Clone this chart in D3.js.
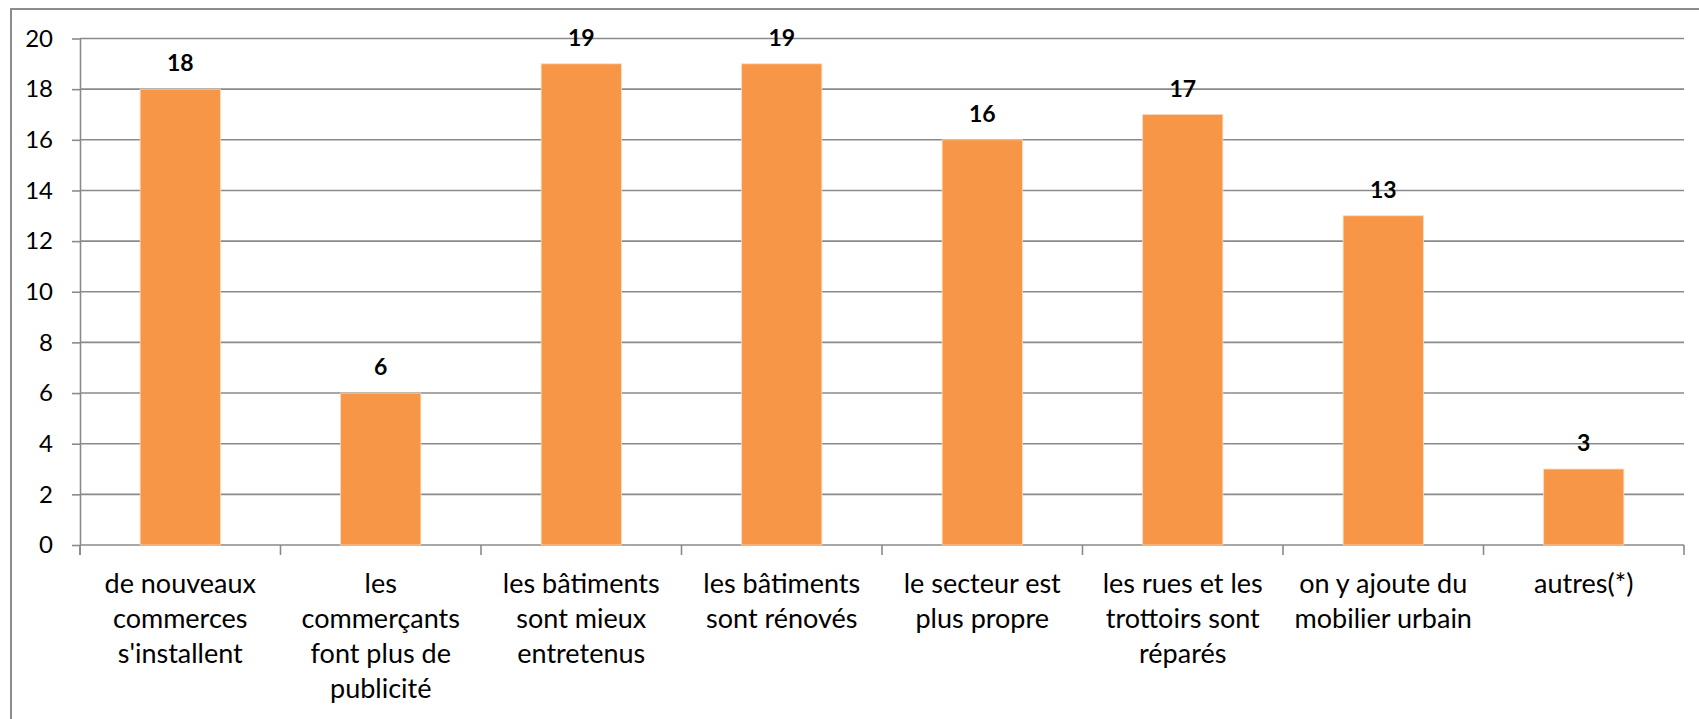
<!DOCTYPE html>
<html>
<head>
<meta charset="utf-8">
<script src="https://cdn.jsdelivr.net/npm/d3@7"></script>
<style>
  html, body { margin: 0; padding: 0; background: #fff; }
  svg { display: block; }
  text { font-family: Lato, "Open Sans", sans-serif; fill: #000; }
</style>
</head>
<body>
<svg id="chart" width="1699" height="719"></svg>
<script>
// Category labels (one entry per bar, lines separated by "\n")
const categories = [
  "de nouveaux\ncommerces\ns'installent",
  "les\ncommerçants\nfont plus de\npublicité",
  "les bâtiments\nsont mieux\nentretenus",
  "les bâtiments\nsont rénovés",
  "le secteur est\nplus propre",
  "les rues et les\ntrottoirs sont\nréparés",
  "on y ajoute du\nmobilier urbain",
  "autres(*)"
];
const values = [18, 6, 19, 19, 16, 17, 13, 3];
const yTicks = [0, 2, 4, 6, 8, 10, 12, 14, 16, 18, 20];

const svg = d3.select("#chart");
const plot = { left: 80, right: 1684, top: 38.5, bottom: 545 };
const gridColor = "#8a8a8a";

// Outer chart frame (runs off the right and bottom edges)
svg.append("rect")
  .attr("x", 11).attr("y", 9)
  .attr("width", 1720).attr("height", 740)
  .attr("fill", "none")
  .attr("stroke", "#8c8c8c")
  .attr("stroke-width", 2);

const x = d3.scaleBand()
  .domain(d3.range(categories.length))
  .range([plot.left, plot.right])
  .padding(0);

const y = d3.scaleLinear()
  .domain([0, 20])
  .range([plot.bottom, plot.top]);

// Horizontal gridlines
svg.append("g")
  .selectAll("line")
  .data(yTicks)
  .join("line")
  .attr("x1", plot.left)
  .attr("x2", plot.right)
  .attr("y1", d => y(d))
  .attr("y2", d => y(d))
  .attr("stroke", gridColor)
  .attr("stroke-width", 1.6);

// Y axis with tick labels
const yAxis = svg.append("g")
  .attr("transform", `translate(${plot.left},0)`)
  .call(d3.axisLeft(y).tickValues(yTicks).tickSize(8).tickSizeOuter(0).tickPadding(19));
yAxis.select(".domain").attr("stroke", gridColor).attr("stroke-width", 1.6);
yAxis.selectAll(".tick line").attr("stroke", gridColor).attr("stroke-width", 1.6);
yAxis.selectAll(".tick text")
  .attr("font-size", 24)
  .style("font-family", "Lato, 'Open Sans', sans-serif")
  .attr("fill", "#000");

// Extend the y axis line down to the category tick length
svg.append("line")
  .attr("x1", plot.left).attr("x2", plot.left)
  .attr("y1", plot.bottom).attr("y2", plot.bottom + 10)
  .attr("stroke", gridColor).attr("stroke-width", 1.6);

// Category separator ticks below the baseline
const bounds = d3.range(categories.length + 1).map(i =>
  i < categories.length ? x(i) : x(i - 1) + x.bandwidth());
svg.append("g")
  .selectAll("line")
  .data(bounds)
  .join("line")
  .attr("x1", d => d).attr("x2", d => d)
  .attr("y1", plot.bottom).attr("y2", plot.bottom + 10)
  .attr("stroke", gridColor).attr("stroke-width", 1.6);

// Bars
const barW = x.bandwidth() * 0.4;
svg.append("g")
  .selectAll("rect")
  .data(values)
  .join("rect")
  .attr("x", (d, i) => x(i) + (x.bandwidth() - barW) / 2)
  .attr("y", d => y(d))
  .attr("width", barW)
  .attr("height", d => y(0) - y(d))
  .attr("fill", "#F79646")
  .attr("stroke", "#fcd9bb")
  .attr("stroke-width", 0.8);

// Value labels above bars
svg.append("g")
  .selectAll("text")
  .data(values)
  .join("text")
  .attr("x", (d, i) => x(i) + x.bandwidth() / 2)
  .attr("y", d => y(d) - 26)
  .attr("dy", "0.35em")
  .attr("text-anchor", "middle")
  .attr("font-size", 23)
  .attr("font-weight", "bold")
  .text(d => d);

// Category labels, wrapped over several lines
const catG = svg.append("g");
categories.forEach((c, i) => {
  const t = catG.append("text")
    .attr("x", x(i) + x.bandwidth() / 2)
    .attr("y", 593)
    .attr("text-anchor", "middle")
    .attr("font-size", 27);
  c.split("\n").forEach((line, k) => {
    t.append("tspan")
      .attr("x", x(i) + x.bandwidth() / 2)
      .attr("dy", k === 0 ? 0 : 35)
      .text(line);
  });
});
</script>
</body>
</html>
